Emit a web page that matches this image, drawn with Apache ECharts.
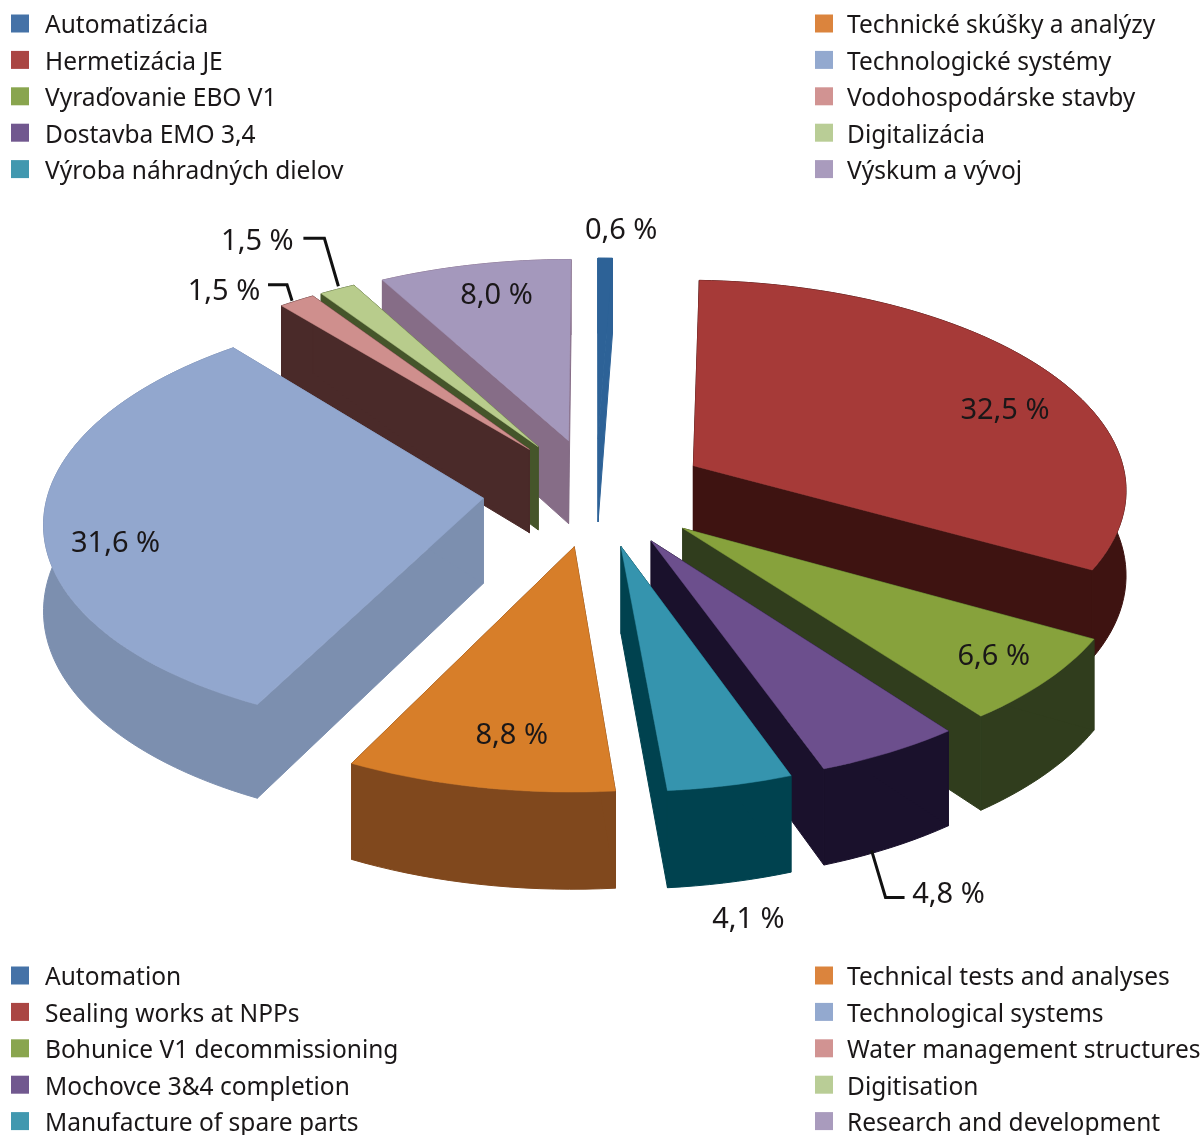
<!DOCTYPE html>
<html>
<head>
    <meta charset="UTF-8">
    <title>Pie</title>
    <script src="https://cdn.jsdelivr.net/npm/echarts@6/dist/echarts.min.js"></script>
    <style>
        html, body { margin: 0; padding: 0; background: #fff; }
        #main { width: 1202px; height: 1135px; }
    </style>
</head>
<body>
    <div id="main"></div>
    <script>
        // data
        var namesSk = ['Automatizácia', 'Hermetizácia JE', 'Vyraďovanie EBO V1', 'Dostavba EMO 3,4', 'Výroba náhradných dielov',
            'Technické skúšky a analýzy', 'Technologické systémy', 'Vodohospodárske stavby', 'Digitalizácia', 'Výskum a vývoj'];
        var namesEn = ['Automation', 'Sealing works at NPPs', 'Bohunice V1 decommissioning', 'Mochovce 3&4 completion', 'Manufacture of spare parts',
            'Technical tests and analyses', 'Technological systems', 'Water management structures', 'Digitisation', 'Research and development'];
        var values = [0.6, 32.5, 6.6, 4.8, 4.1, 8.8, 31.6, 1.5, 1.5, 8.0];

        // colours
        var legendColors = ['#4572A7', '#AA4643', '#89A54E', '#71588F', '#4198AF', '#DB843D', '#93A9CF', '#D19392', '#B9CD96', '#A99BBD'];
        var topColors = ['#2D6297', '#A63A38', '#87A23C', '#6C4F8D', '#3594AE', '#D77E29', '#92A7CE', '#CF8F8D', '#B8CC8C', '#A498BC'];
        var wallColors = ['#2D6297', '#3E1311', '#303D1D', '#1A112C', '#00424F', '#80481D', '#7C8FAF', '#4A2A29', '#45552A', '#866D87'];

        // label position relative to the outer middle of each slice, px
        var labelShift = [[16, -27], [-41, 40], [-53, -24], [59, 142], [18, 134], [33, -51], [72, 22], [-73, -9], [-80, -48], [22, 31]];
        var leaders = {
            3: [[-18, 98], [-4, 145], [15, 145]],
            7: [[-5, 0], [-10, -16], [-29, -16]],
            8: [[1, -3], [-13, -51], [-34, -51]]
        };

        // perspective of the pie
        var cx = 596, cy = 492, rx = 435, ry = 209, persp = 0.10, explode = 0.26, depth = 85;
        var total = 0, starts = [];
        values.forEach(function (v) { starts.push(total); total += v; });

        function project(i, frac, r) {
            var mid = (starts[i] + values[i] / 2) / total * Math.PI * 2;
            var a = frac * Math.PI * 2;
            var x = r * Math.sin(a) + explode * Math.sin(mid);
            var y = -r * Math.cos(a) - explode * Math.cos(mid);
            var s = 1 / (1 - persp * y);
            return { x: cx + rx * x * s, y: cy + ry * y * s, s: s };
        }
        function down(p) { return [p.x, p.y + depth * p.s]; }
        function flat(p) { return [p.x, p.y]; }

        function renderSlice(params, api) {
            var i = params.seriesIndex;
            var from = api.value(1) / total, to = (api.value(1) + api.value(0)) / total;
            var arc = [];
            var steps = Math.max(2, Math.ceil((to - from) * 200));
            for (var k = 0; k <= steps; k++) arc.push(project(i, from + (to - from) * k / steps, 1));
            var apex = project(i, from, 0);
            var wallStyle = { fill: wallColors[i], stroke: wallColors[i], lineWidth: 1, lineJoin: 'round' };
            function poly(points, style) {
                return { type: 'polygon', silent: true, shape: { points: points }, style: style };
            }
            var strip = arc.map(flat).concat(arc.slice().reverse().map(down));
            var first = arc[0], last = arc[arc.length - 1];
            return {
                type: 'group',
                children: [
                    poly(strip, wallStyle),
                    poly([flat(apex), flat(first), down(first), down(apex)], wallStyle),
                    poly([flat(apex), flat(last), down(last), down(apex)], wallStyle),
                    poly([flat(apex)].concat(arc.map(flat)), { fill: topColors[i], stroke: topColors[i], lineWidth: 0.5 })
                ]
            };
        }

        function renderLabel(params, api) {
            var i = params.dataIndex;
            var a = project(i, (starts[i] + values[i] / 2) / total, 1);
            var children = [{
                type: 'text', silent: true,
                style: {
                    x: a.x + labelShift[i][0], y: a.y + labelShift[i][1],
                    text: api.value(0).toFixed(1).replace('.', ',') + ' %',
                    fill: '#1a1718', font: labelFont, align: 'center', verticalAlign: 'middle'
                }
            }];
            if (leaders[i]) {
                children.push({
                    type: 'polyline', silent: true,
                    shape: { points: leaders[i].map(function (d) { return [a.x + d[0], a.y + d[1]]; }) },
                    style: { fill: 'none', stroke: '#111', lineWidth: 3 }
                });
            }
            return { type: 'group', children: children };
        }

        var fontFamily = '"Noto Sans"';
        var labelFont = '29px ' + fontFamily;

        // far slices are painted first
        var order = values.map(function (v, i) { return i; }).sort(function (a, b) {
            return project(a, (starts[a] + values[a] / 2) / total, 0.6).y - project(b, (starts[b] + values[b] / 2) / total, 0.6).y;
        });

        var series = values.map(function (v, i) {
            return {
                name: namesSk[i], type: 'custom', coordinateSystem: 'none',
                z: 2 + order.indexOf(i),
                itemStyle: { color: legendColors[i] },
                renderItem: renderSlice,
                data: [[v, starts[i]]],
                animation: false, silent: true
            };
        });
        series.push({
            name: 'labels', type: 'custom', coordinateSystem: 'none', z: 30,
            renderItem: renderLabel,
            data: values.map(function (v) { return [v]; }),
            animation: false, silent: true
        });

        function legend(names, left, top, gap, english) {
            return {
                data: names, orient: 'vertical', left: left, top: top, height: 200, padding: 0,
                // square in the upper part of the box, so the text sits a little lower than the icon
                itemWidth: 18, itemHeight: 24, itemGap: 11.4, selectedMode: false,
                icon: 'path://M0 0H18V18H0ZM0 24L0 24',
                formatter: english ? function (n) { return namesEn[namesSk.indexOf(n)]; } : undefined,
                textStyle: { fontFamily: fontFamily, fontSize: 24.5, color: '#1a1718', padding: [0, 0, 0, gap] }
            };
        }

        var myChart = echarts.init(document.getElementById('main'));
        myChart.setOption({
            animation: false,
            legend: [
                legend(namesSk.slice(0, 5), 11, 14, 11, false),
                legend(namesSk.slice(5), 815, 14, 9, false),
                legend(namesSk.slice(0, 5), 11, 966, 11, true),
                legend(namesSk.slice(5), 815, 966, 9, true)
            ],
            series: series
        });
    </script>
</body>
</html>
